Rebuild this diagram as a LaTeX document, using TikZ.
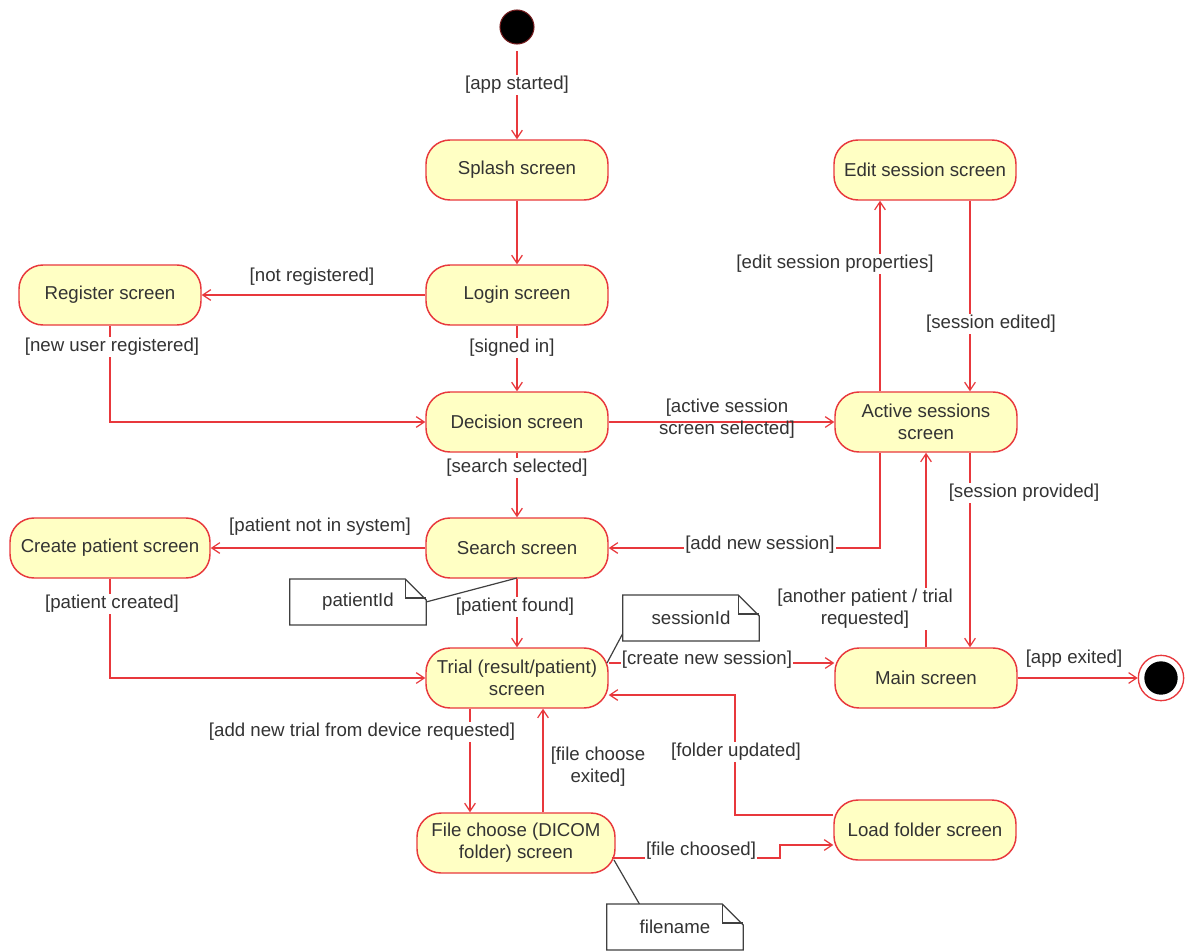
\documentclass[tikz,border=0pt]{standalone}
\usepackage{fontspec}
\setmainfont{Liberation Sans}
\usetikzlibrary{arrows.meta,calc}
\definecolor{lred}{HTML}{E8383C}
\definecolor{nfill}{HTML}{FFFFC4}
\definecolor{txt}{HTML}{333333}
\begin{document}
\begin{tikzpicture}[x=0.75pt,y=-0.75pt,
  fnt/.style={font=\fontsize{14}{16.5}\selectfont},
  state/.style={fnt,draw=lred,fill=nfill,line width=1.1pt,rounded corners=18pt,minimum width=136.5pt,minimum height=45pt,align=center,text=txt,inner sep=0pt},
  lbl/.style={fnt,text=txt,inner sep=1pt,align=center},
  wl/.style={lbl,fill=white},
  tr/.style={draw=lred,line width=0.9pt,-{Straight Barb[length=6pt,width=8pt]}},
  notebox/.style={fnt,text=txt,minimum width=102pt,minimum height=34pt,inner sep=0pt,fill=white},
  noteln/.style={draw=black!75,line width=0.9pt}]
\fill[white] (0,0) rectangle (1185,950);
\useasboundingbox (0,0) rectangle (1185,950);

% helper coordinates
\coordinate (c880) at (880,0);
\coordinate (c970) at (970,0);
\coordinate (c470) at (470,0);
\coordinate (c543) at (543,0);
\coordinate (c663) at (0,663);
\coordinate (c858) at (0,858);
\coordinate (c845) at (0,845);
\coordinate (fu1) at (735,815);
\coordinate (fu2) at (735,695);
\coordinate (fc1) at (780,858);
\coordinate (fc2) at (780,845);

% states
\node[circle,fill=black,draw=lred!50!black,line width=0.8pt,minimum size=25.5pt,inner sep=0pt] (init) at (517,27) {};
\node[state] (splash) at (517,170) {Splash screen};
\node[state] (login) at (517,295) {Login screen};
\node[state] (register) at (110,295) {Register screen};
\node[state] (decision) at (517,422) {Decision screen};
\node[state] (active) at (926,422) {Active sessions\\screen};
\node[state] (edit) at (925,170) {Edit session screen};
\node[state] (search) at (517,548) {Search screen};
\node[state,minimum width=150pt] (create) at (110,548) {Create patient screen};
\node[state] (trial) at (517,678) {Trial (result/patient)\\screen};
\node[state] (main) at (926,678) {Main screen};
\node[circle,draw=lred,fill=white,line width=1pt,minimum size=34pt,inner sep=0pt] (final) at (1161,678) {};
\node[circle,fill=black,minimum size=25pt,inner sep=0pt] (finalin) at (final) {};
\node[state,minimum width=148.5pt] (file) at (516,843) {File choose (DICOM\\folder) screen};
\node[state] (load) at (925,830) {Load folder screen};

% transitions
\draw[tr,shorten <=5pt] (init) -- (splash);
\draw[tr] (splash) -- (login);
\draw[tr] (login) -- (register);
\draw[tr] (login) -- (decision);
\draw[tr] (register.south) |- (decision.west);
\draw[tr] (decision) -- (active);
\draw[tr] (decision) -- (search);
\draw[tr] (search) -- (create);
\draw[tr] (active.south -| c880) |- (search.east);
\draw[tr] (active.north -| c880) -- (edit.south -| c880);
\draw[tr] (edit.south -| c970) -- (active.north -| c970);
\draw[tr] (active.south -| c970) -- (main.north -| c970);
\draw[tr] (main.north) -- (active.south);
\draw[tr] (search) -- (trial);
\draw[tr] (create.south) |- (trial.west);
\draw[tr] (trial.east |- c663) -- (main.west |- c663);
\draw[tr] (main) -- (final);
\draw[tr] (trial.south -| c470) -- (file.north -| c470);
\draw[tr] (file.north -| c543) -- (trial.south -| c543);
\draw[tr] (load.west |- fu1) -- (fu1) -- (fu2) -- (trial.east |- fu2);
\draw[tr] ($(file.east |- c858)+(-4,0)$) -- (fc1) -- (fc2) -- (load.west |- fc2);

% labels
\node[wl] (lapp) at (517,85) {[app started]};
\node[lbl] (lnotreg) at (312,277) {[not registered]};
\node[wl] (lsigned) at (512,348) {[signed in]};
\node[wl] (lnewuser) at (112,347) {[new user registered]};
\node[lbl] (lactsel) at (727,419) {[active session\\screen selected]};
\node[wl] (lsearchsel) at (517,468) {[search selected]};
\node[lbl] (lnotin) at (320,527) {[patient not in system]};
\node[wl] (laddnew) at (760,545) {[add new session]};
\node[wl] (leditp) at (835,264) {[edit session properties]};
\node[wl] (ledited) at (991,324) {[session edited]};
\node[wl] (lprov) at (1024,493) {[session provided]};
\node[wl] (lanother) at (865,609) {[another patient / trial\\requested]};
\node[wl] (lfound) at (515,607) {[patient found]};
\node[wl] (lcreated) at (112,604) {[patient created]};
\node[wl] (lcreate) at (707,660) {[create new session]};
\node[lbl] (lexit) at (1074,659) {[app exited]};
\node[wl] (laddtrial) at (362,732) {[add new trial from device requested]};
\node[lbl] (lfcexit) at (598,767) {[file choose\\exited]};
\node[wl] (lfu) at (736,752) {[folder updated]};
\node[wl] (lfc) at (701,851) {[file choosed]};

% notes
\draw[noteln] (517,578) -- (426,602);
\draw[noteln] (623,633) -- (607,663);
\draw[noteln] (640,905) -- (614,860);
\node[notebox] (n1) at (358,602) {patientId};
\node[notebox] (n2) at (691,618) {sessionId};
\node[notebox] (n3) at (675,927) {filename};
\foreach \n in {n1,n2,n3}{
  \draw[noteln] (\n.south west) -- (\n.north west) -- ($(\n.north east)+(-21,0)$) -- ($(\n.north east)+(0,21)$) -- (\n.south east) -- cycle;
  \draw[noteln] ($(\n.north east)+(-21,0)$) -- ($(\n.north east)+(-21,19)$) -- ($(\n.north east)+(0,19)$);
}
\end{tikzpicture}
\end{document}
